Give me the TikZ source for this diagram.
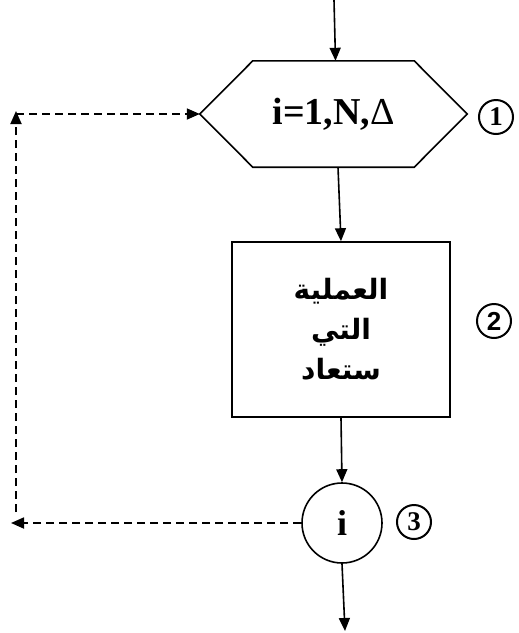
\documentclass[tikz,border=0pt]{standalone}
\usepackage{fontspec}
\setmainfont{Liberation Serif}
\newfontfamily\arabicfont[Script=Arabic]{DejaVu Sans}
\newfontfamily\numsans{Liberation Sans}
\TeXXeTstate=1
\usetikzlibrary{arrows.meta}
\begin{document}
\begin{tikzpicture}[x=1pt,y=-1pt,
  flow/.style={line width=1.6pt,-{Triangle[length=13pt,width=11pt]}},
  loopline/.style={line width=1.8pt,dash pattern=on 8pt off 5pt,-{Triangle[length=13pt,width=11pt]}},
  shapeline/.style={line width=1.6pt},
  marker/.style={circle,draw,line width=2pt,minimum size=34pt,inner sep=0pt,font=\fontsize{27}{27}\selectfont\bfseries},
  arabic/.style={font=\arabicfont\bfseries\fontsize{28}{40}\selectfont,align=center}]
\useasboundingbox (0,0) rectangle (519,633);

% loop header (hexagon)
\node[minimum width=267pt,minimum height=106pt,inner sep=0pt,
      font=\fontsize{38}{38}\selectfont\bfseries] (hex) at (333.5,114) {i=1,N,\textmd{Δ}};
\draw[shapeline] (hex.west) -- ([xshift=53pt]hex.north west) -- ([xshift=-53pt]hex.north east)
  -- (hex.east) -- ([xshift=-53pt]hex.south east) -- ([xshift=53pt]hex.south west) -- cycle;

% body of the loop
\node[draw,shapeline,minimum width=218pt,minimum height=175pt,inner sep=0pt,arabic] (body) at (341,329.5)
  {\beginR العملية\endR\\ \beginR التي\endR\\ \beginR ستعاد\endR};

% loop end
\node[circle,draw,shapeline,minimum size=80pt,inner sep=0pt,font=\fontsize{36}{36}\selectfont\bfseries] (endl) at (342,523) {i};

% step markers
\node[marker] (m1) at (496,117) {1};
\node[marker,font=\numsans\fontsize{26}{26}\selectfont\bfseries] (m2) at (494,321) {2};
\node[marker] (m3) at (414,522) {3};

% free ends of connectors
\coordinate (inflow) at (334,0);
\coordinate (outflow) at (345,631);
\coordinate (backtip) at (11,523);
\coordinate (upstart) at (16,512);
\coordinate (upend) at (16,111);

% main flow
\draw[flow] (inflow) -- ([xshift=2pt]hex.north);
\draw[flow] ([xshift=4.5pt]hex.south) -- (body.north);
\draw[flow] (body.south) -- (endl.north);
\draw[flow] (endl.south) -- (outflow);

% dashed return path
\draw[loopline] (endl.west) -- (backtip);
\draw[loopline] (upstart) -- (upend);
\draw[loopline] (upend |- hex.west) -- (hex.west);
\end{tikzpicture}
\end{document}
